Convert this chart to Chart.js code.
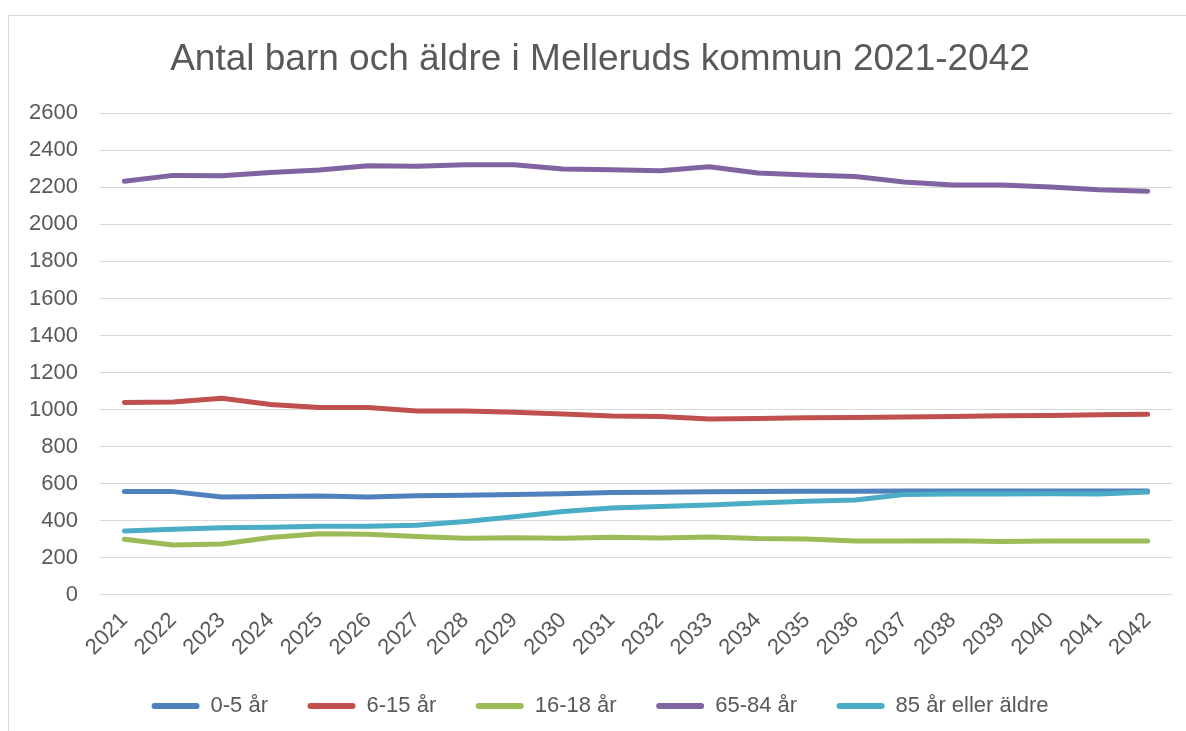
<!DOCTYPE html>
<html>
<head>
<meta charset="utf-8">
<script src="https://cdn.jsdelivr.net/npm/chart.js@4"></script>
<style>
  html, body { margin: 0; padding: 0; background: #fff; overflow: hidden; }
  #frame { position: absolute; left: 8px; top: 15px; width: 1200px; height: 760px; border: 1px solid #d9d9d9; }
  #wrap { position: absolute; left: 0; top: 0; width: 1186px; height: 731px; }
</style>
</head>
<body>
<div id="frame"></div>
<div id="wrap"><canvas id="lineChart" width="1186" height="731"></canvas></div>
<script>
const years = ['2021', '2022', '2023', '2024', '2025', '2026', '2027', '2028', '2029', '2030', '2031',
    '2032', '2033', '2034', '2035', '2036', '2037', '2038', '2039', '2040', '2041', '2042'];

const age0to5 = [556, 556, 527, 529, 532, 527, 534, 536, 540, 545, 551, 553, 555, 556, 558, 558, 560, 560, 560, 560, 560, 560];
const age6to15 = [1038, 1040, 1061, 1027, 1010, 1010, 992, 992, 985, 975, 965, 962, 949, 951, 955, 957, 959, 962, 966, 968, 972, 974];
const age16to18 = [299, 268, 273, 308, 328, 326, 313, 304, 307, 304, 310, 306, 311, 302, 300, 289, 289, 291, 287, 289, 289, 289];
const age65to84 = [2233, 2265, 2263, 2280, 2294, 2317, 2315, 2322, 2322, 2300, 2296, 2290, 2312, 2278, 2267, 2259, 2229, 2213, 2213, 2202, 2187, 2179];
const age85plus = [343, 352, 361, 363, 369, 369, 374, 395, 420, 449, 467, 476, 484, 494, 504, 511, 540, 543, 543, 545, 543, 554];

const yTicks = [0, 200, 400, 600, 800, 1000, 1200, 1400, 1600, 1800, 2000, 2200, 2400, 2600];

const seriesNames = ['0-5 år', '6-15 år', '16-18 år', '65-84 år', '85 år eller äldre'];
const seriesColors = ['#4F81BD', '#C0504D', '#9BBB59', '#8064A2', '#4BACC6'];
const seriesData = [age0to5, age6to15, age16to18, age65to84, age85plus];

const fontFamily = '"Liberation Sans", Arial, sans-serif';
const textColor = '#595959';

const ctx = document.getElementById('lineChart').getContext('2d');
const lineChart = new Chart(ctx, {
    type: 'line',
    data: {
        labels: years,
        datasets: seriesNames.map((name, i) => ({
            label: name,
            data: seriesData[i],
            borderColor: seriesColors[i],
            backgroundColor: seriesColors[i],
            borderWidth: 5,
            borderCapStyle: 'round',
            borderJoinStyle: 'round',
            pointRadius: 0,
            tension: 0,
            // later series on top, like the original
            order: seriesNames.length - i
        }))
    },
    options: {
        responsive: false,
        animation: false,
        events: [],
        layout: {
            padding: { left: 28, right: 14, top: 0, bottom: 4 }
        },
        plugins: {
            title: {
                display: true,
                text: 'Antal barn och äldre i Melleruds kommun 2021-2042',
                color: textColor,
                font: { family: fontFamily, size: 37, weight: 'normal' },
                padding: { top: 38, bottom: 31 }
            },
            legend: {
                position: 'bottom',
                labels: {
                    color: textColor,
                    font: { family: fontFamily, size: 22 },
                    boxWidth: 48,
                    boxHeight: 6,
                    padding: 39.5,
                    useBorderRadius: true,
                    borderRadius: 3,
                    generateLabels: function (chart) {
                        const items = Chart.defaults.plugins.legend.labels.generateLabels(chart);
                        return items.map(item => Object.assign(item, { lineWidth: 0 }));
                    },
                    sort: (a, b) => a.datasetIndex - b.datasetIndex
                }
            },
            tooltip: { enabled: false }
        },
        scales: {
            x: {
                offset: true,
                grid: { display: false },
                border: { display: false },
                ticks: {
                    color: textColor,
                    font: { family: fontFamily, size: 22 },
                    minRotation: 45,
                    maxRotation: 45,
                    autoSkip: false,
                    padding: 5
                },
                afterFit: function (scale) {
                    scale.height = 61;
                }
            },
            y: {
                min: 0,
                max: 2600,
                border: { display: false },
                grid: { color: '#d9d9d9', lineWidth: 1, drawTicks: false },
                afterBuildTicks: function (scale) {
                    scale.ticks = yTicks.map(v => ({ value: v }));
                },
                ticks: {
                    color: textColor,
                    font: { family: fontFamily, size: 22 },
                    padding: 22,
                    callback: (value) => String(value)
                },
                afterFit: function (scale) {
                    scale.width = 72;
                }
            }
        }
    }
});
</script>
</body>
</html>
